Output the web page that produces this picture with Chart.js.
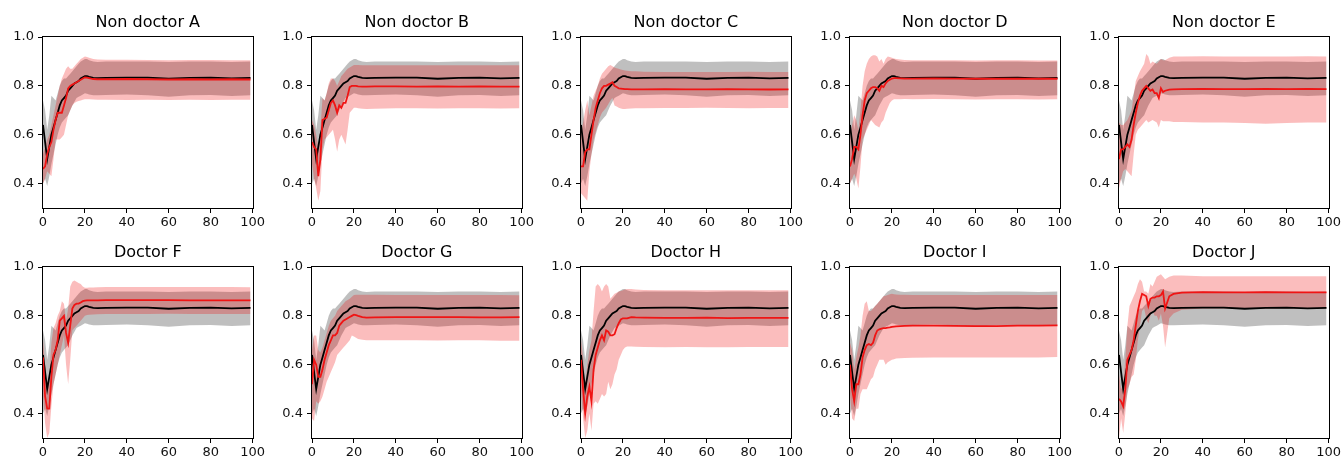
<!DOCTYPE html>
<html>
<head>
<meta charset="utf-8">
<script src="https://cdn.jsdelivr.net/npm/chart.js@4"></script>
<style>
  body { margin: 0; background: #fff; }
  #wrap { position: relative; width: 1341px; height: 457px; }
  .panel { position: absolute; width: 267px; height: 232px; }
</style>
</head>
<body>
<div id="wrap"></div>
<script>
// x positions (trial number) shared by every curve
const xs = [0,1,2,3,4,5,6,7,8,9,10,11,12,13,14,15,16,17,18,19,20,21,22,24,26,30,40,50,60,70,80,90,99];
const xTicks = [0, 20, 40, 60, 80, 100];
const yTicks = [0.4, 0.6, 0.8, 1.0];

const titles = ["Non doctor A", "Non doctor B", "Non doctor C", "Non doctor D", "Non doctor E",
                "Doctor F", "Doctor G", "Doctor H", "Doctor I", "Doctor J"];

// reference curve (black) and its band, same in every panel
const baseMean = [.64,.57,.50,.55,.60,.63,.66,.69,.72,.74,.75,.76,.78,.79,.80,.81,.815,.82,.83,.835,.84,.84,.837,.833,.832,.833,.834,.834,.829,.833,.834,.831,.833];
const baseHi   = [.74,.70,.62,.68,.76,.75,.74,.77,.80,.82,.83,.83,.84,.85,.86,.87,.88,.89,.90,.905,.91,.91,.905,.90,.898,.90,.90,.90,.898,.90,.90,.898,.90];
const baseLo   = [.40,.42,.39,.43,.48,.52,.56,.60,.63,.65,.66,.67,.68,.70,.72,.735,.75,.755,.76,.765,.77,.768,.765,.762,.762,.763,.765,.762,.755,.762,.763,.758,.762];

// red curves, one per person
const meanA = [.46,.47,.52,.55,.57,.62,.66,.69,.69,.69,.72,.75,.79,.80,.805,.81,.815,.82,.825,.83,.835,.834,.832,.828,.827,.827,.828,.827,.826,.827,.826,.827,.826];
const hiA   = [.52,.55,.58,.60,.64,.68,.72,.76,.80,.83,.85,.87,.88,.87,.87,.88,.89,.90,.91,.915,.92,.918,.915,.91,.908,.907,.907,.906,.905,.906,.906,.905,.905];
const loA   = [.40,.42,.45,.44,.43,.50,.58,.58,.58,.59,.60,.64,.68,.70,.72,.73,.735,.738,.74,.743,.745,.745,.745,.744,.743,.743,.742,.743,.742,.743,.742,.743,.743];

const meanB = [.57,.55,.54,.43,.50,.66,.665,.67,.70,.73,.74,.72,.69,.72,.71,.73,.73,.76,.795,.80,.80,.80,.798,.797,.797,.798,.798,.797,.798,.797,.798,.797,.797];
const hiB   = [.66,.64,.60,.55,.62,.75,.74,.77,.81,.83,.83,.82,.80,.82,.84,.85,.86,.87,.875,.88,.885,.885,.885,.884,.884,.884,.884,.884,.884,.884,.884,.884,.884];
const loB   = [.48,.42,.38,.33,.37,.54,.58,.59,.60,.61,.62,.58,.53,.58,.60,.58,.56,.62,.69,.70,.71,.71,.708,.706,.705,.706,.708,.708,.707,.708,.708,.707,.708];

const meanC = [.47,.47,.53,.54,.54,.60,.66,.71,.74,.77,.79,.80,.80,.805,.81,.815,.80,.795,.79,.789,.788,.787,.787,.786,.786,.786,.787,.786,.786,.787,.786,.785,.786];
const hiC   = [.60,.65,.70,.74,.68,.72,.76,.78,.80,.83,.85,.86,.87,.88,.885,.88,.875,.872,.87,.867,.865,.863,.862,.86,.86,.858,.857,.857,.857,.857,.858,.857,.857];
const loC   = [.36,.35,.34,.33,.45,.52,.58,.61,.64,.67,.69,.70,.71,.725,.74,.75,.72,.715,.71,.707,.705,.705,.706,.707,.708,.708,.709,.709,.71,.709,.708,.709,.709];

const meanD = [.47,.50,.55,.55,.54,.60,.68,.74,.77,.78,.79,.795,.795,.79,.78,.80,.795,.81,.82,.825,.83,.832,.832,.831,.830,.830,.831,.830,.829,.830,.829,.830,.829];
const hiD   = [.60,.64,.68,.66,.62,.70,.80,.86,.89,.91,.92,.925,.925,.92,.90,.91,.89,.91,.92,.918,.915,.912,.91,.908,.906,.905,.905,.905,.904,.905,.905,.904,.904];
const loD   = [.40,.42,.44,.42,.38,.47,.58,.60,.62,.64,.66,.65,.64,.635,.63,.65,.66,.69,.71,.73,.74,.745,.745,.745,.746,.745,.746,.745,.744,.745,.745,.744,.745];

const meanE = [.50,.54,.54,.55,.56,.55,.58,.64,.69,.73,.76,.78,.79,.80,.79,.78,.785,.77,.77,.75,.79,.775,.78,.785,.786,.787,.788,.787,.787,.788,.787,.788,.787];
const hiE   = [.65,.64,.64,.65,.66,.68,.70,.76,.82,.84,.86,.875,.89,.93,.92,.89,.90,.895,.89,.90,.91,.905,.905,.915,.92,.92,.921,.92,.92,.92,.92,.921,.92];
const loE   = [.38,.42,.45,.46,.45,.44,.43,.52,.60,.62,.63,.64,.65,.66,.65,.655,.66,.655,.65,.63,.66,.655,.655,.655,.652,.652,.65,.65,.648,.645,.648,.65,.65];

const meanF = [.63,.47,.42,.42,.55,.64,.66,.70,.78,.79,.80,.73,.69,.76,.83,.845,.85,.85,.855,.86,.862,.863,.863,.863,.863,.864,.864,.864,.864,.863,.863,.863,.863];
const hiF   = [.70,.60,.52,.55,.69,.75,.77,.80,.82,.86,.85,.78,.83,.92,.94,.945,.94,.935,.93,.92,.915,.915,.916,.916,.917,.918,.918,.918,.918,.918,.918,.918,.917];
const loF   = [.48,.36,.30,.32,.43,.52,.56,.60,.64,.68,.72,.60,.52,.62,.74,.75,.76,.77,.78,.79,.80,.803,.805,.806,.807,.808,.808,.808,.809,.808,.808,.808,.808];

const meanG = [.52,.62,.60,.55,.55,.58,.62,.65,.68,.70,.72,.72,.73,.76,.77,.78,.785,.79,.795,.80,.805,.803,.80,.795,.793,.794,.795,.795,.795,.795,.794,.794,.795];
const hiG   = [.66,.72,.72,.66,.65,.67,.70,.73,.76,.78,.79,.80,.82,.83,.84,.85,.86,.865,.87,.878,.885,.886,.886,.886,.886,.886,.885,.885,.885,.885,.885,.885,.884];
const loG   = [.38,.37,.45,.44,.45,.47,.50,.53,.55,.57,.59,.61,.64,.65,.66,.67,.68,.69,.70,.72,.715,.71,.705,.702,.70,.70,.70,.70,.699,.70,.70,.698,.698];

const meanH = [.62,.50,.40,.47,.51,.45,.58,.64,.67,.70,.72,.70,.74,.735,.72,.72,.725,.75,.77,.785,.79,.79,.79,.795,.794,.793,.792,.792,.793,.791,.792,.792,.792];
const hiH   = [.70,.63,.52,.60,.66,.70,.82,.92,.93,.92,.90,.92,.93,.92,.87,.88,.89,.895,.90,.902,.905,.908,.91,.91,.908,.906,.905,.905,.905,.905,.905,.905,.905];
const loH   = [.50,.38,.30,.33,.40,.33,.44,.45,.44,.46,.48,.47,.48,.53,.50,.52,.56,.58,.62,.64,.66,.67,.675,.675,.674,.673,.672,.673,.672,.672,.673,.673,.673];

const meanI = [.60,.50,.45,.52,.52,.56,.63,.66,.68,.685,.68,.69,.72,.74,.745,.748,.75,.75,.752,.753,.755,.756,.757,.758,.759,.76,.76,.759,.758,.758,.76,.76,.761];
const hiI   = [.69,.66,.58,.63,.67,.72,.80,.85,.86,.82,.82,.83,.84,.85,.86,.87,.88,.882,.885,.888,.89,.888,.887,.886,.886,.885,.885,.885,.885,.885,.885,.885,.885];
const loI   = [.48,.38,.37,.42,.42,.48,.50,.50,.50,.52,.54,.55,.58,.60,.62,.62,.62,.60,.61,.615,.62,.622,.625,.626,.627,.628,.63,.63,.63,.63,.63,.63,.632];

const meanJ = [.46,.45,.43,.50,.62,.64,.66,.70,.76,.82,.86,.89,.885,.88,.84,.87,.875,.875,.88,.88,.885,.90,.83,.88,.89,.895,.897,.896,.896,.897,.896,.896,.896];
const hiJ   = [.56,.50,.52,.62,.76,.84,.86,.88,.90,.93,.95,.94,.90,.90,.89,.93,.92,.94,.96,.965,.97,.96,.95,.96,.965,.965,.962,.962,.962,.962,.962,.962,.962];
const loJ   = [.30,.38,.32,.40,.50,.52,.55,.56,.62,.70,.76,.82,.83,.79,.77,.80,.82,.80,.80,.78,.81,.76,.67,.79,.81,.825,.83,.83,.83,.83,.83,.83,.83];

const redMeans = [meanA, meanB, meanC, meanD, meanE, meanF, meanG, meanH, meanI, meanJ];
const redHis   = [hiA, hiB, hiC, hiD, hiE, hiF, hiG, hiH, hiI, hiJ];
const redLos   = [loA, loB, loC, loD, loE, loF, loG, loH, loI, loJ];

// layout: plot area of every panel
const plotLefts = [43, 312, 581, 850, 1119];
const plotTops = [37, 267];
const padLeft = 43, padTop = 37;

const pts = arr => arr.map((v, i) => ({ x: xs[i], y: v }));

// frame and title drawn round the chart area
const framePlugin = {
  id: 'frame',
  afterDraw(chart, args, opts) {
    const { ctx, chartArea: a } = chart;
    ctx.save();
    ctx.strokeStyle = '#000';
    ctx.lineWidth = 1;
    ctx.strokeRect(Math.round(a.left) - 0.5, Math.round(a.top) - 0.5,
                   Math.round(a.right - a.left) + 1, Math.round(a.bottom - a.top) + 1);
    ctx.fillStyle = '#000';
    ctx.font = '16px "DejaVu Sans"';
    ctx.textAlign = 'center';
    ctx.textBaseline = 'middle';
    ctx.fillText(opts.text, (a.left + a.right) / 2, a.top - 14);
    ctx.restore();
  }
};

const line = (data, color) => ({
  data: pts(data), borderColor: color, borderWidth: 1.8,
  pointRadius: 0, fill: false, tension: 0
});
const band = (data, color, fill) => ({
  data: pts(data), borderWidth: 0, borderColor: 'rgba(0,0,0,0)',
  backgroundColor: color, pointRadius: 0, fill: fill, tension: 0
});

const wrap = document.getElementById('wrap');
titles.forEach((title, k) => {
  const col = k % 5, row = Math.floor(k / 5);
  const div = document.createElement('div');
  div.className = 'panel';
  div.style.left = (plotLefts[col] - padLeft) + 'px';
  div.style.top = (plotTops[row] - padTop) + 'px';
  const cv = document.createElement('canvas');
  cv.width = 267; cv.height = 232;
  div.appendChild(cv);
  wrap.appendChild(div);

  new Chart(cv, {
    type: 'line',
    data: {
      datasets: [
        line(redMeans[k], 'rgb(240,20,20)'),
        line(baseMean, '#000'),
        band(redHis[k], 'rgba(240,0,0,0.26)', '+1'),
        band(redLos[k], 'rgba(0,0,0,0)', false),
        band(baseHi, 'rgba(128,128,128,0.5)', '+1'),
        band(baseLo, 'rgba(0,0,0,0)', false)
      ]
    },
    options: {
      responsive: false,
      animation: false,
      events: [],
      layout: { padding: { top: padTop, right: 14, left: 0, bottom: 0 } },
      plugins: { legend: { display: false }, tooltip: { enabled: false }, frame: { text: title } },
      scales: {
        x: {
          type: 'linear', min: 0, max: 100,
          afterBuildTicks: s => { s.ticks = xTicks.map(v => ({ value: v })); },
          afterFit: s => { s.height = 24; },
          grid: { drawOnChartArea: false, drawTicks: true, tickLength: 5, color: '#000' },
          border: { display: false },
          ticks: { color: '#111', font: { family: 'DejaVu Sans', size: 13 }, padding: 2, maxRotation: 0 }
        },
        y: {
          min: 0.3, max: 1.0,
          afterBuildTicks: s => { s.ticks = yTicks.map(v => ({ value: v })); },
          afterFit: s => { s.width = padLeft; },
          grid: { drawOnChartArea: false, drawTicks: true, tickLength: 5, color: '#000' },
          border: { display: false },
          ticks: { color: '#111', font: { family: 'DejaVu Sans', size: 13 }, padding: 4,
                   callback: v => v.toFixed(1) }
        }
      }
    },
    plugins: [framePlugin]
  });
});
</script>
</body>
</html>
